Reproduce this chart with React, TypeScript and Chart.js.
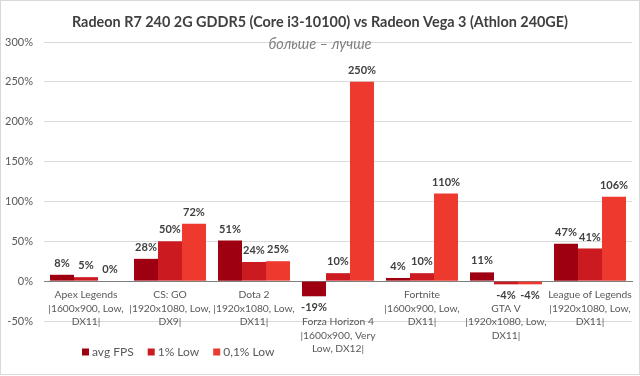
import React, { useEffect, useRef } from "react";
import { Chart, registerables } from "chart.js";

Chart.register(...registerables);

const titleText = "Radeon R7 240 2G GDDR5 (Core i3-10100) vs Radeon Vega 3 (Athlon 240GE)";
const subtitleText = "больше – лучше";

const categories: string[][] = [
  ["Apex Legends", "|1600x900, Low,", "DX11|"],
  ["CS: GO", "|1920x1080, Low,", "DX9|"],
  ["Dota 2", "|1920x1080, Low,", "DX11|"],
  ["", "", "Forza Horizon 4", "|1600x900, Very", "Low, DX12|"],
  ["Fortnite", "|1600x900, Low,", "DX11|"],
  ["", "GTA V", "|1920x1080, Low,", "DX11|"],
  ["League of Legends", "|1920x1080, Low,", "DX11|"],
];

const seriesNames = ["avg FPS", "1% Low", "0,1% Low"];
const avgFps = [8, 28, 51, -19, 4, 11, 47];
const low1 = [5, 50, 24, 10, 10, -4, 41];
const low01 = [0, 72, 25, 250, 110, -4, 106];
const seriesColors = ["#9E0012", "#CC1A21", "#EE3A2E"];

const yMin = -50;
const yMax = 300;
const yStep = 50;

const FONT = "Lato, 'Liberation Sans', sans-serif";

const framePlugin = {
  id: "frame",
  beforeDraw(chart: any) {
    const { ctx, width, height } = chart;
    ctx.save();
    ctx.fillStyle = "#ffffff";
    ctx.fillRect(0, 0, width, height);
    ctx.strokeStyle = "#d9d9d9";
    ctx.lineWidth = 1;
    ctx.strokeRect(0.5, 0.5, width - 1, height - 2);
    ctx.restore();
  },
};

const titlePlugin = {
  id: "customTitle",
  afterDraw(chart: any) {
    const { ctx, width } = chart;
    ctx.save();
    ctx.textAlign = "center";
    ctx.textBaseline = "middle";
    ctx.fillStyle = "#404040";
    ctx.font = `bold 14.4px ${FONT}`;
    ctx.fillText(titleText, width / 2, 22);
    ctx.fillStyle = "#808080";
    ctx.font = `italic 14.5px ${FONT}`;
    ctx.fillText(subtitleText, width / 2, 44);
    ctx.restore();
  },
};

const dataLabelPlugin = {
  id: "dataLabels",
  afterDatasetsDraw(chart: any) {
    const { ctx } = chart;
    ctx.save();
    ctx.font = `bold 11px ${FONT}`;
    ctx.fillStyle = "#404040";
    ctx.textAlign = "center";
    ctx.textBaseline = "middle";
    chart.data.datasets.forEach((ds: any, di: number) => {
      const meta = chart.getDatasetMeta(di);
      meta.data.forEach((bar: any, i: number) => {
        const v = ds.data[i];
        const y = v >= 0 ? bar.y - 11.5 : bar.y + 11.5;
        ctx.fillText(`${Math.round(v)}%`, bar.x, y);
      });
    });
    ctx.restore();
  },
};

const legendPlugin = {
  id: "customLegend",
  afterDraw(chart: any) {
    const { ctx } = chart;
    ctx.save();
    ctx.font = `12px ${FONT}`;
    ctx.textBaseline = "middle";
    ctx.textAlign = "left";
    let x = 82;
    const y = 352;
    seriesNames.forEach((name, i) => {
      ctx.fillStyle = seriesColors[i];
      ctx.fillRect(x, y - 3.5, 7, 7);
      ctx.fillStyle = "#595959";
      ctx.fillText(name, x + 10, y);
      x += 10 + ctx.measureText(name).width + 14;
    });
    ctx.restore();
  },
};

export default function App() {
  const ref = useRef<HTMLCanvasElement | null>(null);

  useEffect(() => {
    if (!ref.current) return;
    const chart = new Chart(ref.current, {
      type: "bar",
      data: {
        labels: categories,
        datasets: [
          { label: seriesNames[0], data: avgFps, backgroundColor: seriesColors[0] },
          { label: seriesNames[1], data: low1, backgroundColor: seriesColors[1] },
          { label: seriesNames[2], data: low01, backgroundColor: seriesColors[2] },
        ],
      },
      options: {
        responsive: false,
        animation: false,
        devicePixelRatio: 1,
        layout: { padding: { top: 42, left: 0, right: 8, bottom: 55 } },
        datasets: {
          bar: { categoryPercentage: 0.857, barPercentage: 1.0 },
        },
        plugins: {
          legend: { display: false },
          title: { display: false },
          tooltip: { enabled: false },
        },
        scales: {
          x: {
            type: "category",
            position: { y: 0 } as any,
            grid: { display: false, drawTicks: false },
            border: { display: true, color: "#7f7f7f", width: 1 },
            ticks: {
              autoSkip: false,
              maxRotation: 0,
              minRotation: 0,
              padding: 7,
              color: "#595959",
              font: { family: FONT, size: 10.3, lineHeight: 1.31 },
            },
          },
          y: {
            min: yMin,
            max: yMax,
            afterFit(scale: any) {
              scale.width = 44;
            },
            grid: { color: "#d9d9d9", drawTicks: false },
            border: { display: false },
            ticks: {
              stepSize: yStep,
              padding: 11,
              color: "#595959",
              font: { family: FONT, size: 11 },
              callback: (v: any) => `${v}%`,
            },
          },
        },
      },
      plugins: [framePlugin, dataLabelPlugin, titlePlugin, legendPlugin],
    });
    return () => chart.destroy();
  }, []);

  return (
    <div style={{ position: "fixed", left: 0, top: 0, width: 640, height: 376, background: "#fff" }}>
      <canvas ref={ref} width={640} height={376} style={{ width: 640, height: 376 }} />
    </div>
  );
}
